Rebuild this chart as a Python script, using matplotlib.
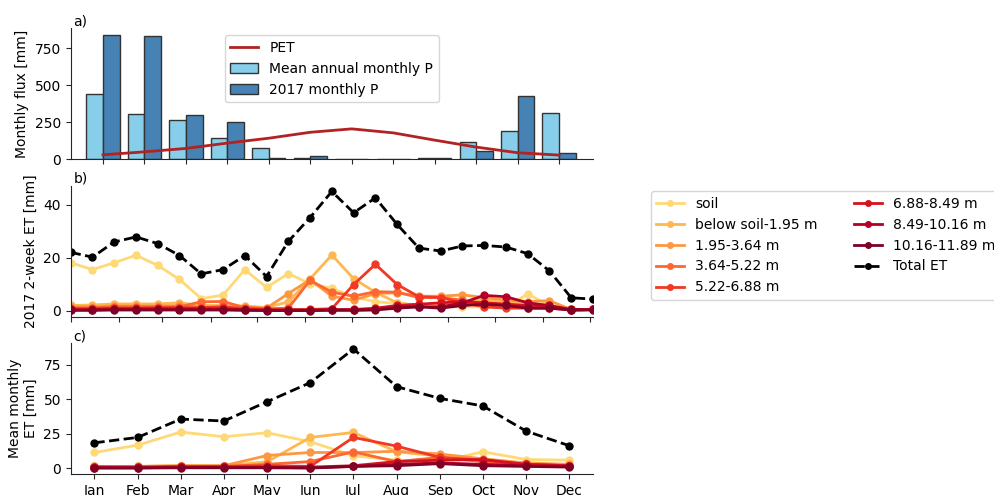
import numpy as np
import pandas as pd
import matplotlib
matplotlib.use("Agg")
import matplotlib.pyplot as plt
import matplotlib.dates as mdates
from matplotlib.ticker import NullFormatter

# ---------------- data ----------------
months = ["Jan", "Feb", "Mar", "Apr", "May", "Jun", "Jul", "Aug", "Sep", "Oct", "Nov", "Dec"]

# panel a
pet = [31, 51, 74, 110, 143, 183, 206, 179, 130, 83, 45, 29]
mean_p = [442, 306, 268, 145, 76, 12, 5, 0, 12, 116, 194, 310]
p2017 = [842, 835, 301, 254, 12, 25, 0, 0, 12, 56, 429, 40]

# panel b (2-week ET 2017)
dates_b = pd.date_range("2017-01-01", periods=25, freq="14D")
total_b = [22.0, 20.2, 25.9, 27.8, 25.3, 20.8, 13.9, 15.5, 20.8, 12.9, 26.1, 35.1, 44.9,
           36.9, 42.5, 32.5, 23.6, 22.5, 24.4, 24.6, 24.0, 21.5, 15.0, 4.9, 4.4]
soil_b = [18.1, 15.5, 18.1, 20.9, 17.1, 11.8, 4.6, 5.9, 15.5, 8.8, 14.0, 10.2, 8.4,
          5.3, 3.4, 2.8, 2.0, 1.5, 1.5, 1.5, 1.5, 6.3, 2.0, 0.5, 0.5]
below_b = [2.0, 2.2, 2.6, 2.6, 2.6, 3.0, 2.0, 2.0, 1.8, 1.2, 3.4, 12.0, 21.0,
           12.1, 7.0, 3.0, 2.0, 2.5, 3.5, 4.0, 3.0, 2.5, 2.0, 0.5, 0.5]
d195_b = [1.5, 1.5, 1.8, 1.8, 1.8, 2.0, 1.5, 1.5, 1.5, 1.0, 6.5, 11.7, 5.5,
          4.0, 6.5, 6.8, 5.5, 5.5, 6.0, 5.0, 4.0, 3.5, 3.8, 0.5, 0.5]
d364_b = [1.0, 1.2, 1.5, 1.5, 1.5, 1.5, 3.4, 3.5, 1.2, 0.8, 1.0, 11.5, 7.0,
          5.5, 7.2, 7.0, 5.0, 5.0, 4.0, 2.5, 2.0, 1.5, 1.5, 0.3, 0.5]
d522_b = [0.8, 0.8, 1.0, 1.0, 1.2, 1.2, 1.2, 1.5, 0.8, 0.5, 0.5, 0.5, 0.8,
          9.9, 17.5, 9.9, 5.3, 5.0, 3.0, 1.5, 1.0, 1.0, 1.0, 0.3, 0.5]
d688_b = [0.5, 0.5, 0.8, 0.8, 0.8, 0.8, 0.8, 0.8, 0.5, 0.3, 0.3, 0.3, 0.5,
          0.5, 1.0, 2.0, 2.5, 3.0, 3.5, 3.0, 2.5, 2.0, 1.5, 0.3, 0.5]
d849_b = [0.3, 0.3, 0.5, 0.5, 0.5, 0.5, 0.5, 0.5, 0.3, 0.2, 0.2, 0.2, 0.3,
          0.3, 0.5, 1.5, 1.5, 1.5, 3.0, 5.8, 5.3, 3.0, 2.0, 0.5, 0.5]
d1016_b = [0.2, 0.2, 0.3, 0.3, 0.3, 0.3, 0.3, 0.3, 0.2, 0.1, 0.1, 0.1, 0.2,
           0.2, 0.3, 1.0, 1.5, 1.0, 2.0, 2.5, 2.0, 1.0, 1.0, 0.3, 0.3]

# panel c (mean monthly ET)
total_c = [18.6, 22.5, 35.8, 34.4, 48.4, 62.2, 86.6, 59.3, 50.8, 45.3, 27.1, 16.5]
soil_c = [11.6, 16.9, 26.4, 23.0, 25.9, 19.4, 9.2, 6.0, 4.8, 12.1, 6.5, 6.0]
below_c = [1.5, 1.5, 2.0, 2.0, 4.8, 22.5, 26.1, 12.1, 9.0, 5.0, 3.0, 2.0]
d195_c = [1.5, 1.5, 2.0, 2.0, 9.4, 11.6, 11.5, 12.5, 10.5, 7.0, 4.0, 3.0]
d364_c = [1.0, 1.0, 1.5, 1.5, 3.0, 5.0, 12.0, 5.0, 8.0, 5.0, 3.0, 2.0]
d522_c = [1.0, 1.0, 1.5, 1.5, 2.0, 1.5, 22.5, 16.2, 8.0, 6.0, 3.0, 2.0]
d688_c = [1.0, 0.8, 1.0, 1.0, 1.0, 1.0, 2.0, 5.0, 6.0, 6.5, 3.0, 2.0]
d849_c = [0.5, 0.5, 0.8, 0.8, 0.8, 0.5, 1.5, 3.0, 4.0, 3.0, 2.0, 1.5]
d1016_c = [0.3, 0.3, 0.5, 0.5, 0.5, 0.3, 1.5, 2.0, 3.5, 2.0, 1.5, 1.0]

layer_labels = ["soil", "below soil-1.95 m", "1.95-3.64 m", "3.64-5.22 m",
                "5.22-6.88 m", "6.88-8.49 m", "8.49-10.16 m", "10.16-11.89 m"]
layers_b = [soil_b, below_b, d195_b, d364_b, d522_b, d688_b, d849_b, d1016_b]
layers_c = [soil_c, below_c, d195_c, d364_c, d522_c, d688_c, d849_c, d1016_c]

# ---------------- style ----------------
plt.rcParams["font.family"] = ["DejaVu Sans"]
plt.rcParams["font.size"] = 10
spine_col = "0.15"

fig = plt.figure(figsize=(9.94, 4.95), dpi=100)
L, W, H = 0.0711, 0.5255, 0.2646
ax_a = fig.add_axes([L, 0.678, W, H])
ax_b = fig.add_axes([L, 0.3606, W, H])
ax_c = fig.add_axes([L, 0.0424, W, H])

for ax in (ax_a, ax_b, ax_c):
    ax.spines["top"].set_visible(False)
    ax.spines["right"].set_visible(False)
    for s in ("left", "bottom"):
        ax.spines[s].set_color(spine_col)
    ax.tick_params(colors=spine_col, labelcolor="black")

cols = plt.get_cmap("YlOrRd")(np.linspace(0.25, 1.0, 8))

# ---------------- panel a ----------------
x = np.arange(len(months))
ax_a.plot(x, pet, color="firebrick", lw=2, label="PET", zorder=3)
ax_a.bar(x, mean_p, width=-0.4, align="edge", color="skyblue", edgecolor="0.2",
         lw=1, label="Mean annual monthly P")
ax_a.bar(x, p2017, width=0.4, align="edge", color="steelblue", edgecolor="0.2",
         lw=1, label="2017 monthly P")
ax_a.set_xlim(-0.78, 11.82)
ax_a.set_ylim(0, 884)
ax_a.set_xticks(x)
ax_a.set_xticklabels([])
ax_a.set_yticks([0, 250, 500, 750])
ax_a.set_ylabel("Monthly flux [mm]")
ax_a.legend(loc="upper center", fontsize=10)
ax_a.text(0.005, 1.0, "a)", transform=ax_a.transAxes, ha="left", va="bottom")

# ---------------- panel b ----------------
for vals, lab, c in zip(layers_b, layer_labels, cols):
    ax_b.plot(dates_b, vals, color=c, lw=2, marker="o", ms=5, label=lab)
ax_b.plot(dates_b, total_b, color="black", lw=2, ls="--", marker="o", ms=5,
          label="Total ET")
ax_b.set_xlim(dates_b[0], dates_b[-1])
ax_b.xaxis.set_major_locator(mdates.MonthLocator())
ax_b.xaxis.set_major_formatter(NullFormatter())
ax_b.set_yticks([0, 20, 40])
ax_b.set_ylabel("2017 2-week ET [mm]")
ax_b.legend(loc="upper left", bbox_to_anchor=(1.1, 1.0), ncol=2, fontsize=10,
            markerscale=0.8, columnspacing=2.6, borderaxespad=0.4)
ax_b.text(0.005, 1.0, "b)", transform=ax_b.transAxes, ha="left", va="bottom")

# ---------------- panel c ----------------
for vals, lab, c in zip(layers_c, layer_labels, cols):
    ax_c.plot(x, vals, color=c, lw=2, marker="o", ms=5, label=lab)
ax_c.plot(x, total_c, color="black", lw=2, ls="--", marker="o", ms=5, label="Total ET")
ax_c.set_xticks(x)
ax_c.set_xticklabels(months)
ax_c.set_yticks([0, 25, 50, 75])
ax_c.set_ylabel("Mean monthly\nET [mm]")
ax_c.text(0.005, 1.0, "c)", transform=ax_c.transAxes, ha="left", va="bottom")

fig.savefig("out.png", dpi=100)
